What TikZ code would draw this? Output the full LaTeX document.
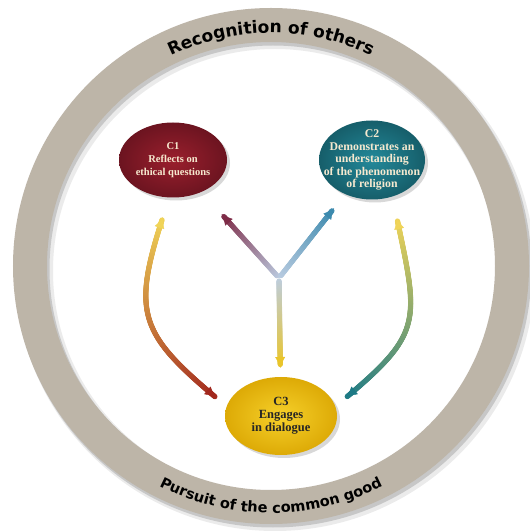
\documentclass[tikz,border=0pt]{standalone}
\usepackage{fontspec}
\setmainfont{Liberation Serif}
\newfontfamily\ringfont{DejaVu Sans}
\usetikzlibrary{shapes.geometric, arrows.meta, decorations.markings, decorations.text, shadows, calc}

\definecolor{ringgray}{HTML}{BDB5A8}
\definecolor{cred}{HTML}{9A1F2D}
\definecolor{creddark}{HTML}{6C1420}
\definecolor{cteal}{HTML}{23899A}
\definecolor{ctealdark}{HTML}{165E6A}
\definecolor{cyellow}{HTML}{F6D02A}
\definecolor{cyellowdark}{HTML}{DDAA06}
\definecolor{cream}{HTML}{F6E9CF}
\definecolor{hubblue}{HTML}{BCCDE2}
\definecolor{armred}{HTML}{7E2B47}
\definecolor{armblue}{HTML}{3C8AAE}
\definecolor{armyellow}{HTML}{EAC52A}
\definecolor{curvered}{HTML}{A2281E}
\definecolor{curveteal}{HTML}{1D7A86}
\definecolor{curveyellow}{HTML}{F0D458}

\begin{document}
\begin{tikzpicture}[
    x=1pt, y=1pt,
    bubble/.style={ellipse, inner sep=0pt, shading=radial, drop shadow={shadow xshift=3pt, shadow yshift=-3pt, opacity=0.3}},
    bubbletext/.style={align=center, font=\bfseries\fontsize{10.5}{13}\selectfont},
    fade/.style 2 args={
        postaction={decorate, decoration={markings, mark=between positions 3pt and -3pt step 0.5pt with {
            \pgfmathtruncatemacro\pct{100*(\pgfkeysvalueof{/pgf/decoration/mark info/distance from start}/\pgfdecoratedpathlength)}
            \fill[#2!\pct!#1] (0,0) circle (2.6pt);}}},
        postaction={decorate, decoration={markings, mark=at position 1 with {\arrow{Latex[length=11pt, width=10pt, color=#2]}}}}},
    both/.style 2 args={fade={#1}{#2},
        postaction={decorate, decoration={markings, mark=at position 0 with {\arrowreversed{Latex[length=11pt, width=10pt, color=#1]}}}}},
    ringtext/.style 2 args={decorate, decoration={text along path, text align=center, text={|\ringfont\bfseries\fontsize{#1}{#1}\selectfont|#2}}}
]

    \useasboundingbox[fill=white] (0,0) rectangle (530,531);

    % Ring
    \coordinate (ctr) at (271,265);
    \draw[line width=38pt, black, opacity=0.08] ([shift={(4,-5)}]ctr) circle (241);
    \draw[line width=35pt, black, opacity=0.15] ([shift={(2,-3)}]ctr) circle (241);
    \draw[line width=34pt, ringgray] (ctr) circle (241);
    \path[ringtext={17}{Recognition of others}] ([shift={(160:233)}]ctr) arc[start angle=160, end angle=20, radius=233];
    \path[ringtext={14.5}{Pursuit of the common good}] ([shift={(200:247)}]ctr) arc[start angle=200, end angle=340, radius=247];

    % Competencies
    \node[bubble, inner color=cred, outer color=creddark, minimum width=108pt, minimum height=75pt] (c1) at (173,371) {};
    \node[bubble, inner color=cteal, outer color=ctealdark, minimum width=106pt, minimum height=79pt] (c2) at (372,371) {};
    \node[bubble, inner color=cyellow, outer color=cyellowdark, minimum width=112pt, minimum height=78pt] (c3) at (281,115) {};
    \node[bubbletext, text=cream] (c1text) at (c1) {C1\\Reflects on\\ethical questions};
    \node[bubbletext, text=cream, font=\bfseries\fontsize{11.8}{12.5}\selectfont] (c2text) at (c2) {C2\\Demonstrates an\\understanding\\of the phenomenon\\of religion};
    \node[bubbletext, text=black!85, font=\bfseries\fontsize{12.5}{13}\selectfont] (c3text) at (c3) {C3\\Engages\\in dialogue};

    % Y in the middle
    \coordinate (hub) at (279,253);
    \path[fade={hubblue}{armred}] (hub) -- ($(hub)!86pt!(c1)$);
    \path[fade={hubblue}{armblue}] (hub) -- ($(hub)!89pt!(c2)$);
    \path[fade={hubblue}{armyellow}] (hub) -- ($(hub)!90pt!(c3)$);

    % Curved links to C3
    \path[both={curveyellow}{curvered}] ([shift={(-100:20)}]c1.260) .. controls +(-108:100) and +(140:100) .. ([shift={(140:14)}]c3.170);
    \path[both={curveyellow}{curveteal}] ([shift={(-80:22)}]c2.300) .. controls +(-78:105) and +(40:100) .. ([shift={(40:14)}]c3.10);

\end{tikzpicture}
\end{document}
